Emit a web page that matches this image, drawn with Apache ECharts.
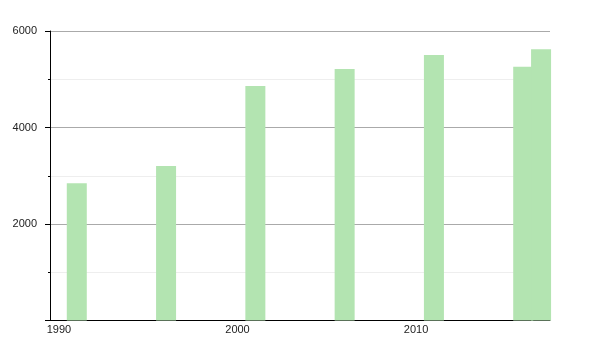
<!DOCTYPE html>
<html>
<head>
<meta charset="utf-8">
<script src="https://cdn.jsdelivr.net/npm/echarts@6/dist/echarts.min.js"></script>
<style>html,body{margin:0;padding:0;background:#fff;}#c{width:600px;height:350px;}</style>
</head>
<body>
<div id="c"></div>
<script>
const years = [1991, 1996, 2001, 2006, 2011, 2016, 2017];
const population = [2843, 3202, 4860, 5212, 5503, 5259, 5622];
const xTickLabels = [1990, 2000, 2010];

const chart = echarts.init(document.getElementById('c'), null, {renderer: 'canvas'});
chart.setOption({
  animation: false,
  backgroundColor: '#ffffff',
  grid: {left: 50, right: 50, top: 31, bottom: 29.5, containLabel: false},
  xAxis: {
    type: 'value',
    min: 1989.5,
    max: 2017.5,
    axisLine: {show: true, lineStyle: {color: '#000', width: 1}},
    axisTick: {show: false},
    splitLine: {show: false},
    axisLabel: {
      customValues: xTickLabels,
      color: '#222',
      fontFamily: 'Liberation Sans',
      fontSize: 11,
      margin: 4,
      formatter: v => String(v)
    }
  },
  yAxis: {
    type: 'value',
    min: 0,
    max: 6000,
    interval: 2000,
    axisLine: {show: true, lineStyle: {color: '#000', width: 1}},
    axisTick: {show: true, length: 5, lineStyle: {color: '#000'}},
    minorTick: {show: true, splitNumber: 2, length: 2, lineStyle: {color: '#000'}},
    splitLine: {show: true, lineStyle: {color: '#aaaaaa', width: 1}},
    minorSplitLine: {show: true, lineStyle: {color: '#eeeeee', width: 1}},
    axisLabel: {
      color: '#222',
      fontFamily: 'Liberation Sans',
      fontSize: 11,
      margin: 13,
      formatter: v => (v === 0 ? '' : String(v))
    }
  },
  series: [{
    type: 'bar',
    data: years.map((y, i) => [y, population[i]]),
    barWidth: 20,
    itemStyle: {color: '#b3e4b1'},
    z: 3
  }]
});
</script>
</body>
</html>
